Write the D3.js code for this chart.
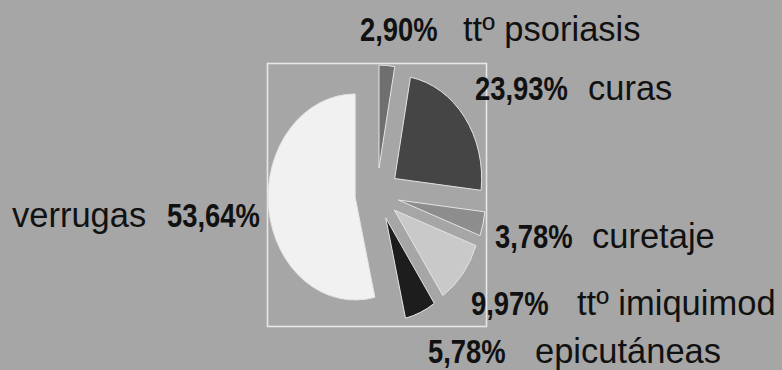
<!DOCTYPE html>
<html>
<head>
<meta charset="utf-8">
<script src="https://cdn.jsdelivr.net/npm/d3@7"></script>
<style>
  html, body { margin: 0; padding: 0; background: #a6a6a6; }
  svg { display: block; }
</style>
</head>
<body>
<svg id="chart" width="782" height="370"></svg>
<script>
// ---- data ----
const categories = ["tt\u00ba psoriasis", "curas", "curetaje", "tt\u00ba imiquimod", "epicut\u00e1neas", "verrugas"];
const values = [2.90, 23.93, 3.78, 9.97, 5.78, 53.64];
const valueLabels = ["2,90%", "23,93%", "3,78%", "9,97%", "5,78%", "53,64%"];

// ---- styling / layout (not data) ----
const colors = ["#6f6f6f", "#454545", "#8d8d8d", "#c9c9c9", "#1d1d1d", "#f1f1f1"];
// label layout: [pctX, labelX, baselineY, side]
const labelLayout = [
  {px: 360, lx: 463, y: 41, side: "right"},
  {px: 475, lx: 588, y: 100, side: "right"},
  {px: 495, lx: 592, y: 248, side: "right"},
  {px: 471, lx: 577, y: 315, side: "right"},
  {px: 428, lx: 535, y: 363, side: "right"},
  {px: 167, lx: 12, y: 227, side: "left"}
];

const svg = d3.select("#chart");
const W = 782, H = 370;

svg.append("rect").attr("width", W).attr("height", H).attr("fill", "#a6a6a6");

// plot frame
svg.append("rect")
  .attr("x", 267.5).attr("y", 63.5)
  .attr("width", 219).attr("height", 263)
  .attr("fill", "none")
  .attr("stroke", "#e6e6e6")
  .attr("stroke-width", 1.6);

const cx = 377, cy = 194, r = 87, yStretch = 1.184, explode = 22;

const pie = d3.pie().sort(null).value(d => d)(values);
const arc = d3.arc().innerRadius(0).outerRadius(r);

const g = svg.append("g")
  .attr("transform", `translate(${cx},${cy}) scale(1,${yStretch})`);

g.selectAll("path")
  .data(pie)
  .join("path")
  .attr("d", arc)
  .attr("transform", d => {
    const m = (d.startAngle + d.endAngle) / 2;
    return `translate(${explode * Math.sin(m)},${-explode * Math.cos(m)})`;
  })
  .attr("fill", (d, i) => colors[i])
  .attr("stroke", "#e4e4e4")
  .attr("stroke-width", 1)
  .attr("vector-effect", "non-scaling-stroke");

// labels
const lab = svg.append("g");
labelLayout.forEach((p, i) => {
  lab.append("text")
    .attr("transform", `translate(${p.px},${p.y}) scale(0.83,1)`)
    .attr("font-family", "Liberation Sans, Arial, sans-serif")
    .attr("font-weight", "bold")
    .attr("font-size", 33)
    .attr("fill", "#111")
    .text(valueLabels[i]);
  lab.append("text")
    .attr("x", p.lx).attr("y", p.y)
    .attr("font-family", "Liberation Sans, Arial, sans-serif")
    .attr("font-size", 34.5)
    .attr("fill", "#111")
    .text(categories[i]);
});
</script>
</body>
</html>
